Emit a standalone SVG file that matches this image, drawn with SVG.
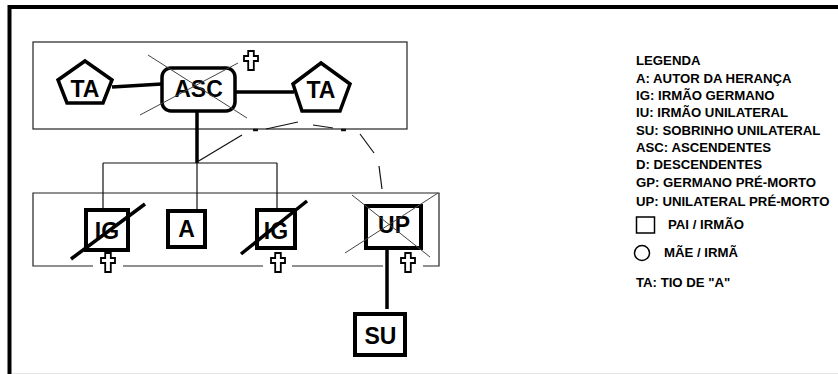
<svg xmlns="http://www.w3.org/2000/svg" width="838" height="374" viewBox="0 0 838 374">
<style>
.box{fill:none;stroke:#222;stroke-width:1.2}
.node{fill:#fff;stroke:#000;stroke-width:4}
.lbl{font-family:"Liberation Sans",Arial,sans-serif;font-weight:bold;font-size:23px;fill:#000;text-anchor:middle}
.leg{font-family:"Liberation Sans",Arial,sans-serif;font-weight:bold;font-size:13.2px;fill:#000}
.thin{stroke:#111;stroke-width:1.2;fill:none}
.thick{stroke:#000;stroke-width:3.5;fill:none}
.xl{stroke:#444;stroke-width:1;fill:none}
.dash{stroke:#111;stroke-width:1.2;fill:none}
.slash{stroke:#000;stroke-width:3.5;fill:none}
</style>
<defs>
<polygon id="cross" points="-2.8,0 2.8,0 2.8,5 7,5 7,10 2.8,10 2.8,19 -2.8,19 -2.8,10 -7,10 -7,5 -2.8,5" fill="#fff" stroke="#000" stroke-width="1.8" stroke-linejoin="miter"/>
</defs>
<rect width="838" height="374" fill="#fff"/>
<g id="frame">
<path d="M9.5,374 V7 H838" fill="none" stroke="#000" stroke-width="4"/>
<line x1="12" y1="373.5" x2="838" y2="373.5" stroke="#e6e6e6" stroke-width="1"/>
</g>
<g id="group-ascendants">
<rect class="box" x="33" y="42" width="374" height="87"/>
</g>
<g id="group-siblings">
<path class="box" d="M93,266 H33 V193 H439 V266 H423 M383,266 H292 M263,266 H123"/>
</g>
<g id="connectors">
<line class="thick" x1="112" y1="87" x2="162" y2="84"/>
<line class="thick" x1="235" y1="92" x2="294" y2="92"/>
<line class="thick" x1="197" y1="111" x2="197" y2="163"/>
<line class="thin" x1="103" y1="163" x2="277" y2="163"/>
<line class="thin" x1="103" y1="163" x2="103" y2="210"/>
<line class="thin" x1="197" y1="163" x2="197" y2="211"/>
<line class="thin" x1="277" y1="163" x2="277" y2="210"/>
<line class="thick" x1="387" y1="248" x2="387" y2="309"/>
<g class="dash">
<line x1="197" y1="162" x2="242" y2="135"/>
<line x1="253" y1="130" x2="258" y2="130" stroke-width="2.5"/>
<line x1="266" y1="129" x2="298" y2="122"/>
<line x1="313" y1="125" x2="333" y2="128"/>
<line x1="341" y1="130" x2="346" y2="130" stroke-width="2.5"/>
<line x1="360" y1="134" x2="374" y2="153"/>
<line x1="379" y1="166" x2="382" y2="189"/>
</g>
</g>
<g id="ta-left">
<polygon class="node" style="stroke-width:3.5" points="85,61 112,80 103,103 67,103 58,80"/>
<text class="lbl" x="85" y="97">TA</text>
</g>
<g id="asc">
<rect class="node" style="stroke-width:3.5" x="162" y="68" width="73" height="43" rx="9"/>
<text class="lbl" x="198.5" y="97">ASC</text>
<line class="xl" x1="148" y1="55" x2="247" y2="118"/>
<line class="xl" x1="140" y1="115" x2="238" y2="63"/>
<use href="#cross" x="251" y="51"/>
</g>
<g id="ta-right">
<polygon class="node" style="stroke-width:3.5" points="321,63 350,84 340,111 302,111 293,84"/>
<text class="lbl" x="321" y="98">TA</text>
</g>
<g id="ig-left">
<rect class="node" x="86" y="210" width="42" height="40"/>
<text class="lbl" x="107" y="239">IG</text>
<line class="slash" x1="71" y1="259" x2="145" y2="204"/>
<use href="#cross" x="108" y="253"/>
</g>
<g id="a">
<rect class="node" x="168" y="211" width="37" height="36"/>
<text class="lbl" x="186.5" y="237">A</text>
</g>
<g id="ig-right">
<rect class="node" x="257" y="210" width="38" height="38"/>
<text class="lbl" x="276" y="239">IG</text>
<line class="slash" x1="241" y1="254" x2="307" y2="201"/>
<use href="#cross" x="278" y="253"/>
</g>
<g id="up">
<rect class="node" x="366" y="206" width="55" height="42"/>
<text class="lbl" x="394" y="233">UP</text>
<line class="xl" x1="352" y1="195" x2="430" y2="257"/>
<line class="xl" x1="345" y1="253" x2="438" y2="193"/>
<use href="#cross" x="408" y="253"/>
</g>
<g id="su">
<rect class="node" x="355" y="314" width="50" height="41"/>
<text class="lbl" x="380.5" y="344">SU</text>
</g>
<g id="legend">
<text class="leg" x="636" y="65">LEGENDA</text>
<text class="leg" x="636" y="83">A: AUTOR DA HERANÇA</text>
<text class="leg" x="636" y="100">IG: IRMÃO GERMANO</text>
<text class="leg" x="636" y="117">IU: IRMÃO UNILATERAL</text>
<text class="leg" x="636" y="134.5">SU: SOBRINHO UNILATERAL</text>
<text class="leg" x="636" y="152">ASC: ASCENDENTES</text>
<text class="leg" x="636" y="169">D: DESCENDENTES</text>
<text class="leg" x="636" y="187">GP: GERMANO PRÉ-MORTO</text>
<text class="leg" x="636" y="206">UP: UNILATERAL PRÉ-MORTO</text>
<rect x="636.5" y="217" width="18" height="16" fill="none" stroke="#000" stroke-width="1.5"/>
<text class="leg" x="668" y="229">PAI / IRMÃO</text>
<circle cx="642" cy="253" r="7.5" fill="none" stroke="#000" stroke-width="1.5"/>
<text class="leg" x="664" y="256.5">MÃE / IRMÃ</text>
<text class="leg" x="636" y="286.5">TA: TIO DE "A"</text>
</g>
</svg>
